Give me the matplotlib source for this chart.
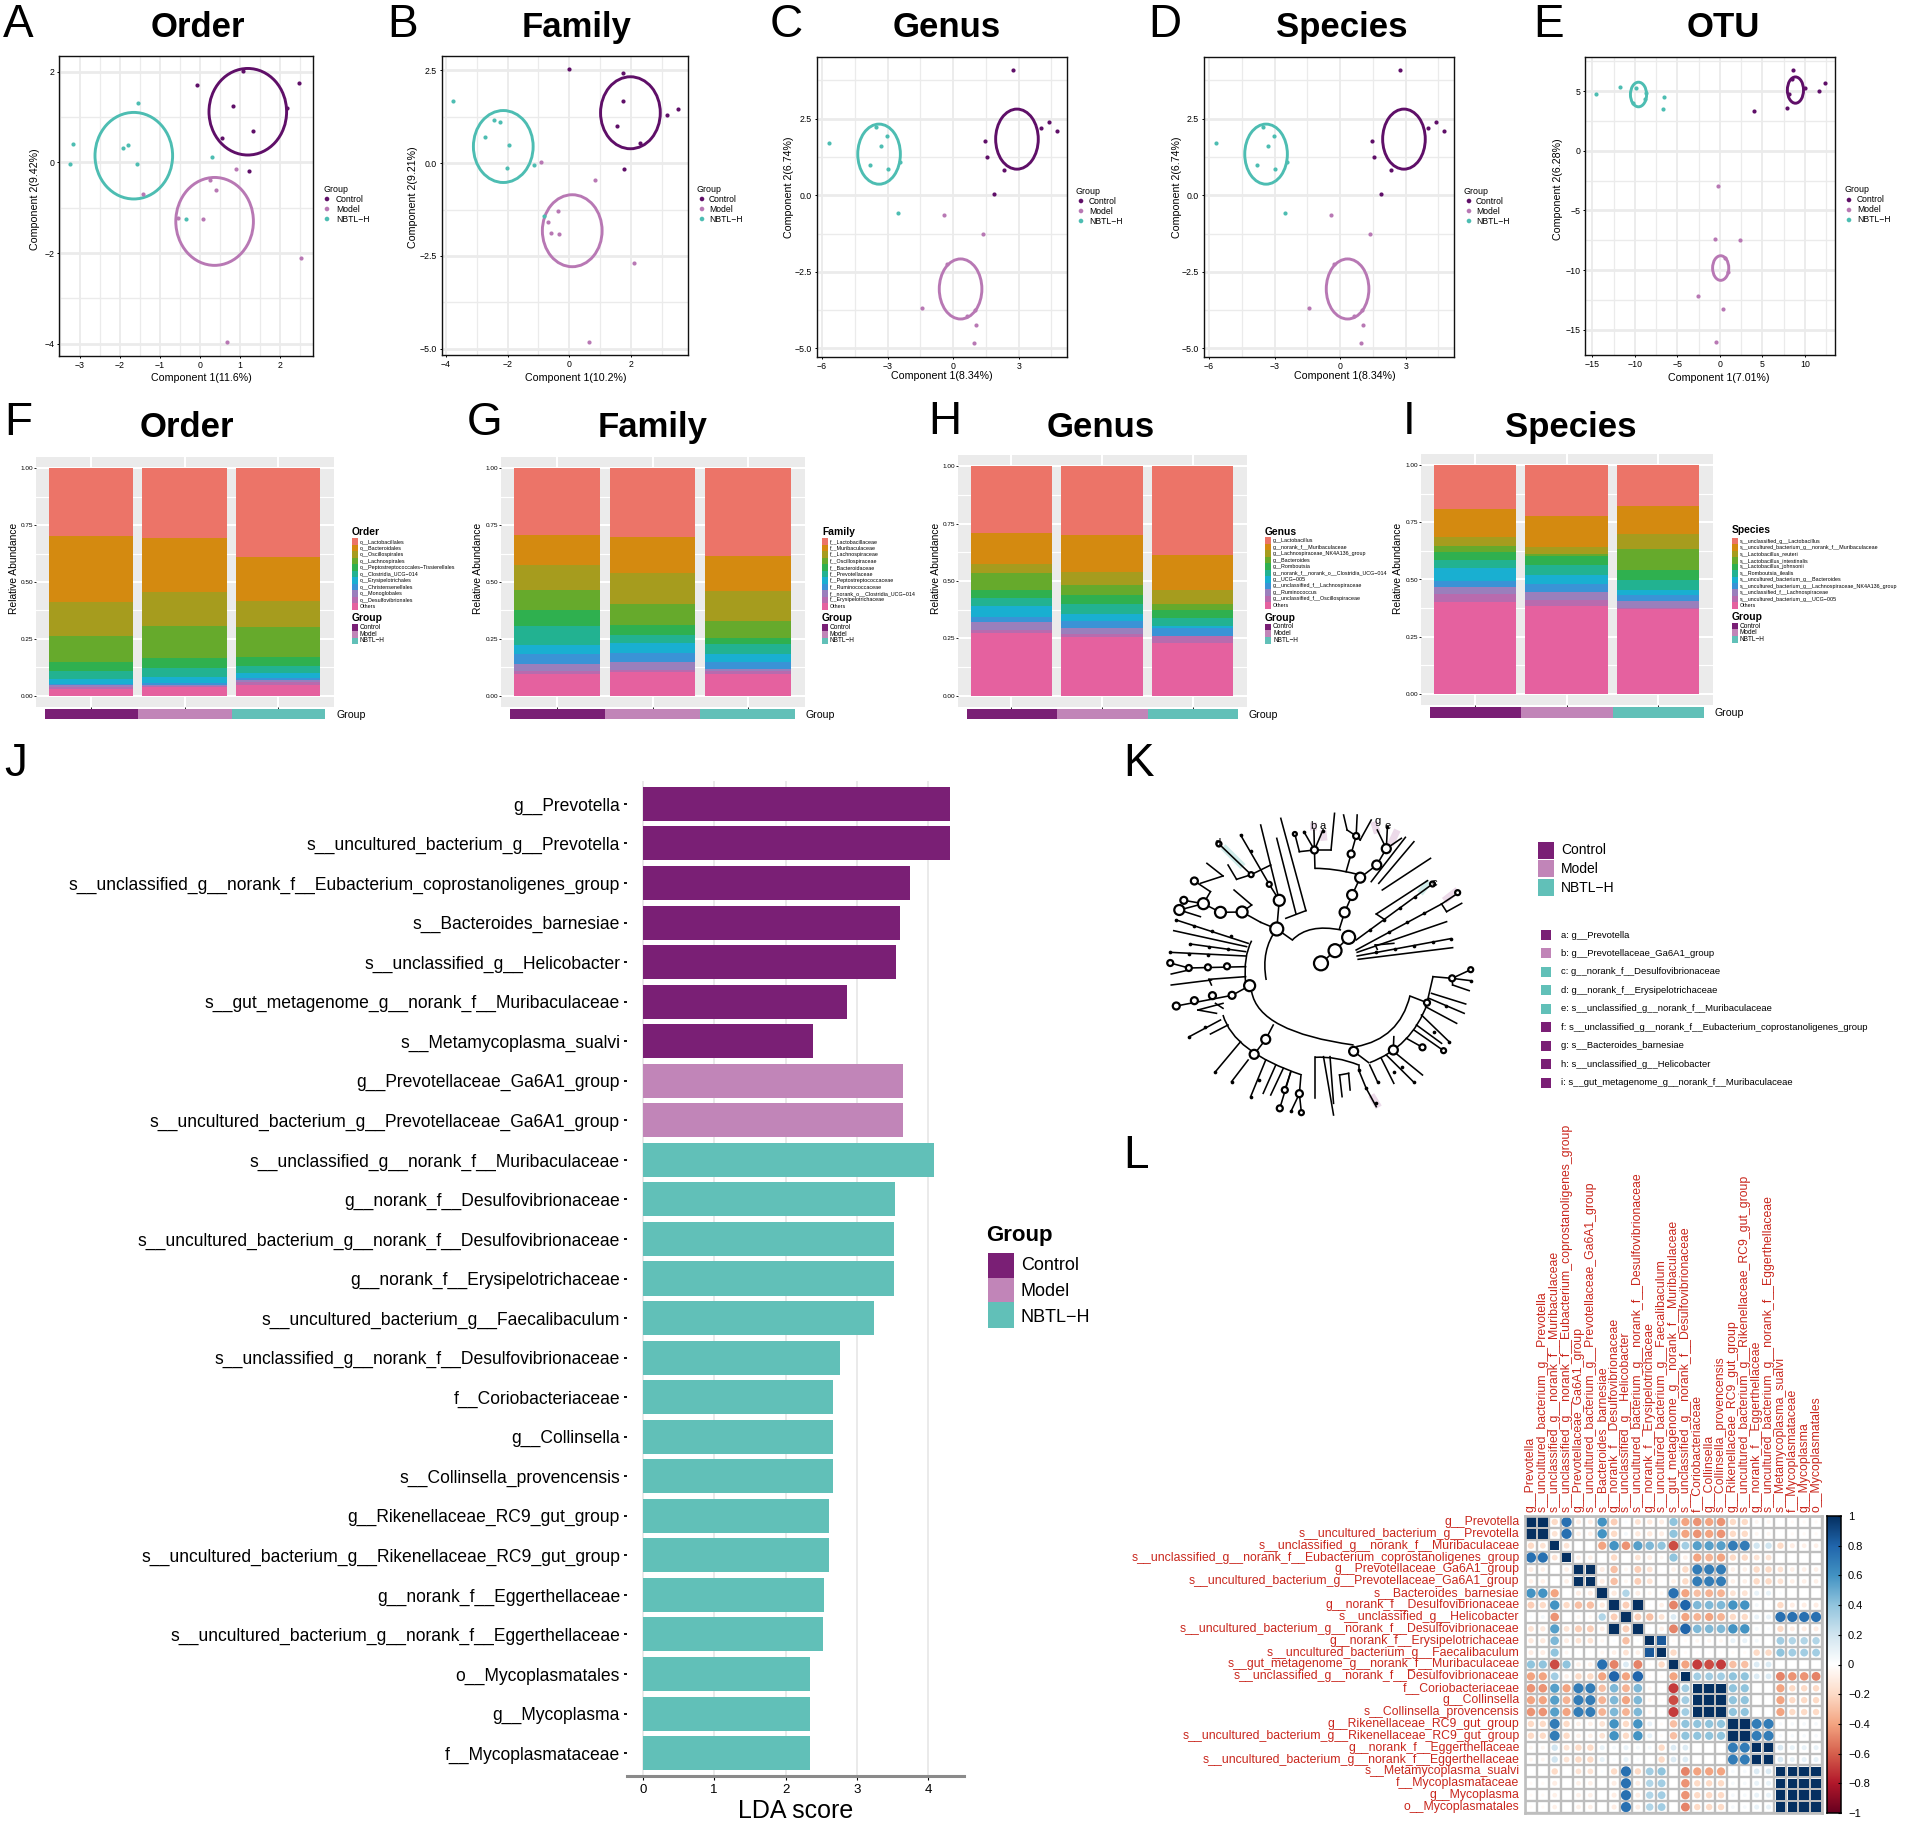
import numpy as np
import matplotlib
matplotlib.use("Agg")
import matplotlib.pyplot as plt
from matplotlib.colors import LinearSegmentedColormap, Normalize
from matplotlib.patches import Ellipse, PathPatch, Rectangle
from matplotlib.path import Path

plt.rcParams['font.family'] = ['Liberation Sans', 'DejaVu Sans']

W, H = 1908, 1821

groups = ['Control', 'Model', 'NBTL\u2212H']
scatter_colors = ['#5F0F68', '#B878B4', '#4DBDB2']
group_colors = ['#7A1F75', '#C185B8', '#61C0B8']

# PCoA points, [control, model, nbtl]
order_x = [[-0.07, 1.07, 2.47, 0.84, 2.18, 1.34, 0.55, 1.24],
           [0.91, 0.26, 0.41, -1.41, -0.55, 0.09, 2.54, 0.69],
           [-1.54, -3.16, -3.24, -1.80, -1.91, -1.56, 0.31, -0.35]]
order_y = [[1.70, 2.02, 1.76, 1.24, 1.21, 0.70, 0.53, -0.18],
           [-0.15, -0.39, -0.60, -0.69, -1.22, -1.24, -2.11, -3.97],
           [1.32, 0.40, -0.03, 0.38, 0.31, -0.03, 0.12, -1.25]]
order_ell = [(1.20, 1.12, 1.94, 1.91), (0.37, -1.30, 1.94, 1.94), (-1.65, 0.15, 1.94, 1.91)]

family_x = [[0, 1.76, 1.75, 3.53, 3.19, 1.54, 2.31, 1.78],
            [-0.91, 0.83, -0.36, -0.68, -0.60, -0.32, 2.10, 0.65],
            [-3.77, -2.44, -2.23, -2.72, -1.94, -1.15, -2.02, -0.81]]
family_y = [[2.54, 2.44, 1.69, 1.46, 1.31, 1.01, 0.54, -0.15],
            [0.04, -0.46, -1.30, -1.58, -1.89, -1.91, -2.70, -4.81],
            [1.69, 1.16, 1.11, 0.71, 0.49, -0.04, -0.13, -1.41]]
family_ell = [(1.99, 1.36, 1.94, 1.94), (0.10, -1.82, 1.94, 1.94), (-2.14, 0.45, 1.94, 1.94)]

genus_x = [[2.72, 4.40, 4.03, 4.73, 1.48, 1.54, 2.35, 1.88],
           [-0.44, 1.38, -0.30, -1.41, 1.01, 0.64, 1.04, 0.94],
           [-5.70, -3.52, -3.02, -3.29, -2.42, -3.79, -2.99, -2.52]]
genus_y = [[4.07, 2.38, 2.19, 2.10, 1.76, 1.24, 0.83, 0.05],
           [-0.63, -1.25, -2.23, -3.69, -3.75, -3.95, -4.24, -4.83],
           [1.70, 2.23, 1.92, 1.62, 1.07, 0.98, 0.85, -0.58]]
genus_ell = [(2.92, 1.83, 1.95, 1.96), (0.34, -3.06, 1.95, 1.96), (-3.39, 1.34, 1.95, 1.96)]

otu_x = [[8.62, 12.33, 10.0, 11.64, 8.10, 8.45, 7.84, 3.97],
         [-0.26, -0.60, 2.33, 0.60, 0.95, -2.59, 0.34, -0.43],
         [-14.57, -11.72, -9.83, -8.71, -8.79, -6.55, -6.72, -10.17]]
otu_y = [[6.72, 5.66, 5.22, 4.99, 4.74, 5.97, 3.54, 3.29],
         [-2.96, -7.36, -7.45, -8.95, -10.13, -12.19, -13.22, -15.98],
         [4.77, 5.30, 5.27, 4.85, 4.35, 4.52, 3.46, 4.02]]
otu_ell = [(8.88, 5.08, 1.9, 2.2), (0.09, -9.82, 1.9, 2.06), (-9.57, 4.71, 1.9, 2.06)]

# stacked bars, top segment first
order_stack = [[.298, .289, .151, .113, .039, .035, .022, .006, .011, .005, .031],
               [.306, .237, .152, .138, .047, .036, .030, .006, .007, .001, .040],
               [.390, .192, .116, .132, .041, .029, .022, .008, .010, .012, .048]]
family_stack = [[.292, .132, .113, .086, .071, .083, .040, .042, .032, .012, .097],
                [.304, .155, .139, .091, .046, .032, .044, .039, .039, .008, .103],
                [.386, .154, .132, .073, .026, .047, .034, .031, .008, .012, .097]]
genus_stack = [[.290, .134, .041, .076, .032, .036, .046, .026, .032, .013, .274],
               [.300, .159, .058, .044, .041, .041, .032, .029, .026, .016, .254],
               [.386, .152, .061, .028, .033, .035, .012, .031, .003, .030, .229]]
species_stack = [[.193, .122, .037, .028, .033, .037, .058, .025, .029, .038, .400],
                 [.223, .135, .032, .009, .039, .041, .041, .036, .032, .028, .384],
                 [.180, .119, .066, .092, .047, .041, .021, .027, .030, .006, .371]]

order_taxa = ['o__Lactobacillales', 'o__Bacteroidales', 'o__Oscillospirales', 'o__Lachnospirales',
              'o__Peptostreptococcales\u2212Tissierellales', 'o__Clostridia_UCG\u2212014', 'o__Erysipelotrichales',
              'o__Christensenellales', 'o__Monoglobales', 'o__Desulfovibrionales', 'Others']
family_taxa = ['f__Lactobacillaceae', 'f__Muribaculaceae', 'f__Lachnospiraceae', 'f__Oscillospiraceae',
               'f__Bacteroidaceae', 'f__Prevotellaceae', 'f__Peptostreptococcaceae', 'f__Ruminococcaceae',
               'f__norank_o__Clostridia_UCG\u2212014', 'f__Erysipelotrichaceae', 'Others']
genus_taxa = ['g__Lactobacillus', 'g__norank_f__Muribaculaceae', 'g__Lachnospiraceae_NK4A136_group', 'g__Bacteroides',
              'g__Romboutsia', 'g__norank_f__norank_o__Clostridia_UCG\u2212014', 'g__UCG\u2212005',
              'g__unclassified_f__Lachnospiraceae', 'g__Ruminococcus', 'g__unclassified_f__Oscillospiraceae', 'Others']
species_taxa = ['s__unclassified_g__Lactobacillus', 's__uncultured_bacterium_g__norank_f__Muribaculaceae',
                's__Lactobacillus_reuteri', 's__Lactobacillus_intestinalis', 's__Lactobacillus_johnsonii',
                's__Romboutsia_ilealis', 's__uncultured_bacterium_g__Bacteroides',
                's__uncultured_bacterium_g__Lachnospiraceae_NK4A136_group', 's__unclassified_f__Lachnospiraceae',
                's__uncultured_bacterium_g__UCG\u2212005', 'Others']
stack_colors = ['#EC7468', '#D48A10', '#A69C1E', '#66AA2C', '#2FB04F', '#22B291',
                '#19AFD1', '#3A93D6', '#9A7FBC', '#B86BAE', '#E5619F']

# LDA
lda_names = ['g__Prevotella', 's__uncultured_bacterium_g__Prevotella',
             's__unclassified_g__norank_f__Eubacterium_coprostanoligenes_group', 's__Bacteroides_barnesiae',
             's__unclassified_g__Helicobacter', 's__gut_metagenome_g__norank_f__Muribaculaceae',
             's__Metamycoplasma_sualvi', 'g__Prevotellaceae_Ga6A1_group',
             's__uncultured_bacterium_g__Prevotellaceae_Ga6A1_group', 's__unclassified_g__norank_f__Muribaculaceae',
             'g__norank_f__Desulfovibrionaceae', 's__uncultured_bacterium_g__norank_f__Desulfovibrionaceae',
             'g__norank_f__Erysipelotrichaceae', 's__uncultured_bacterium_g__Faecalibaculum',
             's__unclassified_g__norank_f__Desulfovibrionaceae', 'f__Coriobacteriaceae', 'g__Collinsella',
             's__Collinsella_provencensis', 'g__Rikenellaceae_RC9_gut_group',
             's__uncultured_bacterium_g__Rikenellaceae_RC9_gut_group', 'g__norank_f__Eggerthellaceae',
             's__uncultured_bacterium_g__norank_f__Eggerthellaceae', 'o__Mycoplasmatales', 'g__Mycoplasma',
             'f__Mycoplasmataceae']
lda_values = [4.30, 4.30, 3.75, 3.60, 3.55, 2.86, 2.38, 3.65, 3.65, 4.08, 3.53, 3.52, 3.52, 3.24, 2.77,
              2.66, 2.66, 2.66, 2.61, 2.61, 2.54, 2.52, 2.35, 2.35, 2.35]
lda_group = [0] * 7 + [1] * 2 + [2] * 16

# correlation
corr_names = ['g__Prevotella', 's__uncultured_bacterium_g__Prevotella', 's__unclassified_g__norank_f__Muribaculaceae',
              's__unclassified_g__norank_f__Eubacterium_coprostanoligenes_group', 'g__Prevotellaceae_Ga6A1_group',
              's__uncultured_bacterium_g__Prevotellaceae_Ga6A1_group', 's__Bacteroides_barnesiae',
              'g__norank_f__Desulfovibrionaceae', 's__unclassified_g__Helicobacter',
              's__uncultured_bacterium_g__norank_f__Desulfovibrionaceae', 'g__norank_f__Erysipelotrichaceae',
              's__uncultured_bacterium_g__Faecalibaculum', 's__gut_metagenome_g__norank_f__Muribaculaceae',
              's__unclassified_g__norank_f__Desulfovibrionaceae', 'f__Coriobacteriaceae', 'g__Collinsella',
              's__Collinsella_provencensis', 'g__Rikenellaceae_RC9_gut_group',
              's__uncultured_bacterium_g__Rikenellaceae_RC9_gut_group', 'g__norank_f__Eggerthellaceae',
              's__uncultured_bacterium_g__norank_f__Eggerthellaceae', 's__Metamycoplasma_sualvi',
              'f__Mycoplasmataceae', 'g__Mycoplasma', 'o__Mycoplasmatales']
corr_rows = [
    [1, 1, -.2, .75, -.1, -.1, .6, -.25, .03, -.15, -.12, -.1, .4, -.4, -.45, -.4, -.45, -.2, -.2, -.05, -.05, 0, -.03, -.03, -.03],
    [1, 1, -.15, .75, -.08, -.08, .6, -.2, .05, -.12, -.12, -.1, .4, -.4, -.45, -.4, -.45, -.2, -.2, -.05, -.05, 0, -.03, -.03, -.03],
    [-.2, -.15, 1, -.15, 0, 0, -.4, .6, -.45, .55, .45, .4, -.65, .35, .55, .55, .55, .7, .7, .2, .2, -.2, -.1, -.08, -.08],
    [.75, .75, -.15, 1, -.08, -.08, 0, -.2, 0, -.15, -.1, -.05, .4, -.08, -.4, -.35, -.4, -.2, -.2, -.15, -.15, 0, 0, 0, 0],
    [-.1, -.08, 0, -.08, 1, 1, -.1, -.3, -.05, -.25, -.15, -.02, -.08, -.2, .7, .7, .7, -.08, -.08, -.2, -.2, -.15, -.08, -.08, -.08],
    [-.08, -.08, 0, -.08, 1, 1, -.1, -.3, -.05, -.25, -.15, -.02, -.08, -.2, .7, .7, .7, -.08, -.08, -.2, -.2, -.15, -.08, -.08, -.08],
    [.6, .6, -.4, 0, -.1, -.1, 1, -.12, .3, -.1, -.05, -.05, .75, -.4, -.3, -.35, -.35, -.15, -.15, .1, .1, .02, 0, 0, 0],
    [-.25, -.2, .6, -.2, -.3, -.3, -.12, 1, -.25, 1, .02, -.08, -.5, .8, .45, .45, .45, .6, .6, .05, .03, -.2, -.1, -.1, -.1],
    [.03, .05, -.45, 0, -.05, -.05, .3, -.25, 1, -.25, -.3, -.15, .15, -.4, -.35, -.4, -.35, -.2, -.2, .1, .1, .75, .75, .75, .75],
    [-.15, -.12, .55, -.15, -.25, -.25, -.1, 1, -.25, 1, .02, -.08, -.5, .8, .45, .45, .45, .6, .6, .05, .03, -.2, -.1, -.1, -.1],
    [-.12, -.12, .45, -.1, -.15, -.15, -.05, .02, -.3, .02, 1, .85, -.03, -.03, -.05, -.05, -.05, .1, .1, .05, 0, .35, .3, .3, .3],
    [-.1, -.1, .4, -.05, -.02, -.02, -.05, -.08, -.15, -.08, .85, 1, -.2, -.03, -.02, -.02, -.02, -.03, -.03, -.2, -.2, .4, .35, .35, .35],
    [.4, .4, -.65, .4, -.08, -.08, .75, -.5, .15, -.5, -.03, -.2, 1, -.4, -.7, -.65, -.7, -.3, -.3, .15, .15, 0, 0, 0, 0],
    [-.4, -.4, .35, -.08, -.2, -.2, -.4, .8, -.4, .8, -.03, -.03, -.4, 1, .35, .35, .35, .4, .4, .15, .15, -.5, -.45, -.45, -.5],
    [-.45, -.45, .55, -.4, .7, .7, -.3, .45, -.35, .45, -.05, -.02, -.7, .35, 1, 1, 1, .4, .4, 0, 0, -.4, -.2, -.2, -.2],
    [-.4, -.4, .55, -.35, .7, .7, -.35, .45, -.4, .45, -.05, -.02, -.65, .35, 1, 1, 1, .4, .4, 0, 0, -.4, -.2, -.2, -.2],
    [-.45, -.45, .55, -.4, .7, .7, -.35, .45, -.35, .45, -.05, -.02, -.7, .35, 1, 1, 1, .4, .4, 0, 0, -.4, -.2, -.2, -.2],
    [-.2, -.2, .7, -.2, -.08, -.08, -.15, .6, -.2, .6, .1, -.03, -.3, .4, .4, .4, .4, 1, 1, .7, .7, .04, .04, .04, .04],
    [-.2, -.2, .7, -.2, -.08, -.08, -.15, .6, -.2, .6, .1, -.03, -.3, .4, .4, .4, .4, 1, 1, .7, .7, .04, .04, .04, .04],
    [-.05, -.05, .2, -.15, -.2, -.2, .1, .05, .1, .05, .05, -.2, .15, .15, 0, 0, 0, .7, .7, 1, 1, .15, .1, .1, .1],
    [-.05, -.05, .2, -.15, -.2, -.2, .1, .03, .1, .03, 0, -.2, .15, .15, 0, 0, 0, .7, .7, 1, 1, .15, .1, .1, .1],
    [0, 0, -.2, 0, -.15, -.15, .02, -.2, .75, -.2, .35, .4, 0, -.5, -.4, -.4, -.4, .04, .04, .15, .15, 1, 1, 1, 1],
    [-.03, -.03, -.1, 0, -.08, -.08, 0, -.1, .75, -.1, .3, .35, 0, -.45, -.2, -.2, -.2, .04, .04, .1, .1, 1, 1, 1, 1],
    [-.03, -.03, -.08, 0, -.08, -.08, 0, -.1, .75, -.1, .3, .35, 0, -.45, -.2, -.2, -.2, .04, .04, .1, .1, 1, 1, 1, 1],
    [-.03, -.03, -.08, 0, -.08, -.08, 0, -.1, .75, -.1, .3, .35, 0, -.5, -.2, -.2, -.2, .04, .04, .1, .1, 1, 1, 1, 1],
]
corr_ticks = [1, .8, .6, .4, .2, 0, -.2, -.4, -.6, -.8, -1]
rdbu = ['#67001F', '#B2182B', '#D6604D', '#F4A582', '#FDDBC7', '#FFFFFF', '#D1E5F0', '#92C5DE', '#4393C3', '#2166AC', '#053061']

# cladogram, coordinates measured on a 1.99 x 3 enlargement of the panel
clade_lines = [
    (400, 640, 428, 602), (428, 602, 455, 562), (437, 535, 447, 487), (447, 487, 462, 435), (462, 435, 478, 383),
    (478, 383, 511, 345), (511, 345, 530, 296), (450, 365, 460, 312), (460, 312, 470, 258), (388, 355, 387, 300),
    (470, 258, 452, 240), (452, 240, 445, 195), (470, 258, 478, 270), (478, 270, 500, 210), (470, 258, 472, 195),
    (530, 296, 512, 240), (530, 296, 532, 238), (530, 296, 560, 265), (387, 300, 357, 305), (357, 305, 348, 252),
    (387, 300, 366, 245), (387, 300, 386, 240), (387, 300, 404, 240), (387, 300, 420, 300), (420, 300, 427, 190),
    (500, 395, 568, 262), (515, 400, 585, 275), (522, 420, 618, 325), (510, 492, 612, 392), (510, 492, 528, 510),
    (470, 570, 622, 402), (470, 600, 640, 462), (640, 462, 650, 485), (650, 485, 680, 460), (640, 462, 672, 430),
    (472, 607, 650, 515), (472, 618, 658, 566), (474, 628, 662, 593), (508, 585, 545, 580), (508, 585, 512, 598),
    (343, 570, 312, 537), (312, 537, 317, 451), (317, 451, 280, 225), (330, 505, 370, 482), (370, 482, 320, 205),
    (350, 490, 312, 265), (317, 451, 297, 403), (297, 403, 240, 255), (261, 374, 300, 345), (261, 374, 197, 282),
    (261, 374, 232, 388), (232, 388, 215, 345), (205, 378, 173, 340), (205, 378, 160, 400), (312, 537, 280, 517),
    (280, 517, 243, 486), (243, 486, 200, 487), (243, 486, 262, 465), (262, 465, 227, 420), (200, 487, 166, 461),
    (166, 461, 180, 425), (180, 425, 148, 393), (166, 461, 127, 451), (166, 461, 118, 480), (118, 480, 160, 500),
    (255, 580, 112, 510), (252, 590, 107, 542), (250, 605, 140, 582), (250, 618, 100, 607), (250, 650, 137, 654),
    (137, 654, 100, 639), (137, 660, 102, 672), (250, 680, 177, 688), (177, 688, 182, 705), (102, 705, 182, 690),
    (258, 707, 223, 736), (223, 736, 112, 768), (205, 760, 155, 780), (155, 780, 192, 790), (190, 760, 205, 775),
    (290, 868, 305, 825), (290, 868, 267, 913), (200, 810, 138, 860), (215, 825, 180, 852), (240, 875, 190, 965),
    (255, 930, 222, 995), (290, 930, 260, 1040), (310, 945, 285, 1030), (325, 955, 300, 1035), (340, 965, 318, 1075),
    (340, 965, 328, 1020), (360, 978, 357, 1031), (357, 1031, 340, 1085), (357, 1031, 361, 1088), (388, 922, 388, 1045),
    (405, 920, 425, 1095), (418, 920, 425, 1060), (437, 975, 455, 970), (437, 975, 442, 1040), (455, 970, 458, 1020),
    (475, 945, 475, 960), (475, 960, 490, 1015), (490, 1015, 510, 1070), (465, 904, 495, 938), (497, 945, 513, 997),
    (520, 925, 545, 1000), (530, 915, 585, 997), (545, 905, 602, 975), (570, 865, 602, 892), (585, 840, 644, 902),
    (611, 758, 623, 680), (623, 680, 661, 685), (661, 685, 698, 659), (661, 685, 698, 692), (661, 685, 662, 705),
    (662, 705, 695, 722), (620, 730, 688, 762), (615, 745, 685, 790), (608, 770, 670, 820), (600, 795, 655, 875),
    (590, 825, 640, 880), (577, 738, 611, 758), (544, 900, 545, 860),
]
clade_arcs = [
    ((343, 570), (375, 520), (440, 540)), ((388, 355), (425, 355), (470, 372)), ((291, 690), (280, 600), (312, 537)),
    ((250, 700), (245, 620), (262, 572)), ((262, 725), (276, 846), (465, 885)), ((205, 795), (226, 906), (362, 975)),
    ((577, 738), (556, 866), (470, 890)), ((497, 938), (580, 891), (612, 760)), ((388, 922), (430, 918), (475, 945)),
]
clade_nodes = [
    (400, 640, 14), (428, 602, 13), (455, 562, 13), (447, 487, 10), (462, 435, 10), (478, 383, 10), (511, 345, 9),
    (530, 296, 9), (460, 312, 7), (470, 258, 6), (387, 300, 7), (348, 252, 4), (312, 537, 13), (317, 451, 11),
    (243, 486, 11), (200, 487, 11), (166, 461, 11), (118, 480, 10), (127, 451, 7), (148, 393, 7), (297, 403, 5),
    (261, 374, 5), (258, 707, 11), (223, 736, 7), (184, 737, 7), (148, 752, 7), (112, 768, 7), (213, 649, 6),
    (175, 652, 6), (137, 654, 6), (100, 639, 6), (290, 868, 9), (267, 913, 9), (465, 904, 9), (544, 900, 9),
    (611, 758, 6), (661, 685, 6), (698, 659, 5), (328, 1020, 6), (357, 1031, 7), (318, 1075, 6), (361, 1088, 5),
    (602, 892, 6), (644, 902, 5), (197, 282, 5), (622, 402, 5), (672, 428, 5),
]
clade_dots = [
    (497, 540), (526, 510), (557, 475), (588, 441), (535, 547), (572, 517), (606, 490), (510, 607), (548, 597),
    (585, 587), (622, 577), (658, 566), (148, 527), (184, 543), (221, 558), (112, 510), (140, 582), (178, 590),
    (215, 598), (137, 611), (175, 615), (100, 607), (240, 255), (260, 303), (366, 245), (404, 242), (532, 232),
    (170, 830), (138, 860), (190, 965), (222, 995), (277, 990), (260, 1040), (340, 1082), (475, 960), (490, 1015),
    (510, 1060), (513, 997), (545, 965), (562, 950), (585, 997), (625, 845), (655, 875), (648, 768), (698, 692),
]
clade_marks = [
    ((205, 290), (245, 350), 2), ((404, 240), (406, 272), 1), ((385, 215), (385, 240), 1), ((505, 215), (512, 250), 1),
    ((552, 240), (538, 285), 1), ((615, 395), (597, 430), 2), ((672, 420), (645, 452), 1), ((500, 1035), (515, 1072), 1),
]
clade_letters = [('b', 384, 227), ('a', 404, 227), ('g', 512, 212), ('e', 533, 228), ('c', 625, 400), ('d', 195, 278)]

key_names = ['a: g__Prevotella', 'b: g__Prevotellaceae_Ga6A1_group', 'c: g__norank_f__Desulfovibrionaceae',
             'd: g__norank_f__Erysipelotrichaceae', 'e: s__unclassified_g__norank_f__Muribaculaceae',
             'f: s__unclassified_g__norank_f__Eubacterium_coprostanoligenes_group', 'g: s__Bacteroides_barnesiae',
             'h: s__unclassified_g__Helicobacter', 'i: s__gut_metagenome_g__norank_f__Muribaculaceae']
key_group = [0, 1, 2, 2, 2, 0, 0, 0, 0]

fig = plt.figure(figsize=(W / 100, H / 100), dpi=100, facecolor='white')


def add_ax(left, top, right, bottom):
    return fig.add_axes([left / W, 1 - bottom / H, (right - left) / W, (bottom - top) / H])


def ftext(x, y, s, **kw):
    kw.setdefault('va', 'center')
    fig.text(x / W, 1 - y / H, s, **kw)


def frect(x0, y0, x1, y1, color):
    fig.add_artist(Rectangle((x0 / W, 1 - y1 / H), (x1 - x0) / W, (y1 - y0) / H,
                             transform=fig.transFigure, facecolor=color, edgecolor='none'))


def minus(vals, fmt='{:g}'):
    return [fmt.format(v).replace('-', '\u2212') for v in vals]


# panel letters and titles
letters = [('A', 3, 37), ('B', 387, 37), ('C', 770, 37), ('D', 1148, 37), ('E', 1533, 37),
           ('F', 4, 435), ('G', 467, 435), ('H', 928, 434), ('I', 1403, 434),
           ('J', 4, 776), ('K', 1123, 776), ('L', 1123, 1168)]
for s, x, y in letters:
    ftext(x, y, s, fontsize=33, va='baseline', ha='left')
titles = [('Order', 198, 37), ('Family', 577, 37), ('Genus', 947, 37), ('Species', 1342, 37), ('OTU', 1723, 37),
          ('Order', 187, 437), ('Family', 653, 437), ('Genus', 1101, 437), ('Species', 1571, 437)]
for s, x, y in titles:
    ftext(x, y, s, fontsize=25, fontweight='bold', va='baseline', ha='center')

# A-E
scatter_panels = [
    dict(box=(59, 56, 313, 356), xlim=(-3.52, 2.83), ylim=(-4.27, 2.35), xt=[-3, -2, -1, 0, 1, 2],
         yt=[-4, -2, 0, 2], xm=np.arange(-3.5, 3, 1), ym=[-3, -1, 1], x=order_x, y=order_y, ell=order_ell, fmt='{:g}',
         xl='Component 1(11.6%)', yl='Component 2(9.42%)', xlp=(201, 378), ylp=(35, 199), leg=(323, 327, 336, 189)),
    dict(box=(442, 56, 688, 355), xlim=(-4.13, 3.86), ylim=(-5.17, 2.89), xt=[-4, -2, 0, 2],
         yt=[-5, -2.5, 0, 2.5], xm=[-3, -1, 1, 3], ym=[-3.75, -1.25, 1.25], x=family_x, y=family_y, ell=family_ell,
         fmt='{:.1f}', xl='Component 1(10.2%)', yl='Component 2(9.21%)', xlp=(576, 378), ylp=(413, 197),
         leg=(697, 702, 709, 189)),
    dict(box=(817, 57, 1067, 357), xlim=(-6.23, 5.21), ylim=(-5.28, 4.51), xt=[-6, -3, 0, 3],
         yt=[-5, -2.5, 0, 2.5], xm=[-4.5, -1.5, 1.5, 4.5], ym=[-3.75, -1.25, 1.25, 3.75], x=genus_x, y=genus_y,
         ell=genus_ell, fmt='{:.1f}', xl='Component 1(8.34%)', yl='Component 2(6.74%)', xlp=(942, 376), ylp=(789, 187),
         leg=(1076, 1081, 1089, 191)),
    dict(box=(1204, 57, 1454, 357), xlim=(-6.23, 5.21), ylim=(-5.28, 4.51), xt=[-6, -3, 0, 3],
         yt=[-5, -2.5, 0, 2.5], xm=[-4.5, -1.5, 1.5, 4.5], ym=[-3.75, -1.25, 1.25, 3.75], x=genus_x, y=genus_y,
         ell=genus_ell, fmt='{:.1f}', xl='Component 1(8.34%)', yl='Component 2(6.74%)', xlp=(1345, 376), ylp=(1177, 187),
         leg=(1464, 1469, 1476, 191)),
    dict(box=(1585, 57, 1835, 355), xlim=(-15.86, 13.53), ylim=(-17.1, 7.85), xt=[-15, -10, -5, 0, 5, 10],
         yt=[-15, -10, -5, 0, 5], xm=[-12.5, -7.5, -2.5, 2.5, 7.5, 12.5], ym=[-12.5, -7.5, -2.5, 2.5, 7.5], x=otu_x,
         y=otu_y, ell=otu_ell, fmt='{:g}', xl='Component 1(7.01%)', yl='Component 2(6.28%)', xlp=(1719, 378),
         ylp=(1558, 189), leg=(1845, 1849, 1857, 190)),
]
for p in scatter_panels:
    ax = add_ax(*p['box'])
    ax.set_xlim(*p['xlim'])
    ax.set_ylim(*p['ylim'])
    ax.set_xticks(p['xt'])
    ax.set_xticklabels(minus(p['xt']))
    ax.set_yticks(p['yt'])
    ax.set_yticklabels(minus(p['yt'], p['fmt']))
    ax.set_xticks(p['xm'], minor=True)
    ax.set_yticks(p['ym'], minor=True)
    ax.tick_params(which='minor', length=0)
    ax.tick_params(which='major', length=1.5, width=0.7, labelsize=6.3, pad=2)
    ax.grid(axis='y', which='major', color='#EBEBEB', lw=2.0)
    ax.grid(axis='y', which='minor', color='#EBEBEB', lw=1.0)
    ax.grid(axis='x', which='major', color='#EBEBEB', lw=1.3)
    ax.grid(axis='x', which='minor', color='#EBEBEB', lw=0.9)
    ax.set_axisbelow(True)
    for sp in ax.spines.values():
        sp.set_linewidth(1.0)
        sp.set_color('#111111')
    for i in range(3):
        ax.scatter(p['x'][i], p['y'][i], s=9, color=scatter_colors[i], linewidths=0, zorder=3)
        cx, cy, w, h = p['ell'][i]
        ax.add_patch(Ellipse((cx, cy), w, h, fill=False, edgecolor=scatter_colors[i], lw=2.1, zorder=2))
    ftext(p['xlp'][0], p['xlp'][1], p['xl'], fontsize=7.7, ha='center')
    ftext(p['ylp'][0], p['ylp'][1], p['yl'], fontsize=7.7, ha='center', rotation=90)
    tx, dx, lx, ty = p['leg']
    ftext(tx, ty, 'Group', fontsize=6.4, ha='left')
    for i, g in enumerate(groups):
        ftext(lx, ty + 10 + 10 * i, g, fontsize=6.2, ha='left')
        fig.add_artist(Ellipse((dx / W, 1 - (ty + 10 + 10 * i) / H), 4.6 / W, 4.6 / H, transform=fig.transFigure,
                               facecolor=scatter_colors[i], edgecolor='none'))

# F-I
bar_panels = [
    dict(box=(36, 457, 334, 707), strip=(45, 709, 325, 719), stack=order_stack, taxa=order_taxa, name='Order',
         legx=352, ty=532, first=541.7, gt=618, gi=627.7, gtxt=337, lab=14),
    dict(box=(501, 457, 805, 707), strip=(510, 709, 795, 719), stack=family_stack, taxa=family_taxa, name='Family',
         legx=822, ty=532, first=541.7, gt=618, gi=627.7, gtxt=806, lab=478),
    dict(box=(958, 455, 1247, 707), strip=(967, 709, 1238, 719), stack=genus_stack, taxa=genus_taxa, name='Genus',
         legx=1265, ty=532, first=540.7, gt=617.7, gi=627, gtxt=1249, lab=936),
    dict(box=(1421, 454, 1713, 705), strip=(1430, 707, 1704, 718), stack=species_stack, taxa=species_taxa, name='Species',
         legx=1732, ty=530, first=541, gt=616.7, gi=626, gtxt=1715, lab=1398),
]
for p in bar_panels:
    ax = add_ax(*p['box'])
    ax.set_facecolor('#EBEBEB')
    ax.set_xlim(0.41, 3.6)
    ax.set_ylim(-0.05, 1.05)
    ax.set_xticks([1, 2, 3])
    ax.set_xticklabels(['', '', ''])
    ax.set_yticks([0, .25, .5, .75, 1])
    ax.set_yticklabels(['0.00', '0.25', '0.50', '0.75', '1.00'])
    ax.set_yticks([.125, .375, .625, .875], minor=True)
    ax.tick_params(which='minor', length=0)
    ax.tick_params(which='major', length=1.2, width=0.6, labelsize=4.6, pad=1)
    ax.grid(which='major', color='white', lw=1.5)
    ax.grid(which='minor', axis='y', color='white', lw=0.8)
    ax.set_axisbelow(True)
    for sp in ax.spines.values():
        sp.set_visible(False)
    for k in range(3):
        top = 1.0
        for j, v in enumerate(p['stack'][k]):
            ax.bar(k + 1, v, bottom=top - v, width=0.9, color=stack_colors[j], linewidth=0)
            top -= v
    ftext(p['lab'], 568, 'Relative Abundance', fontsize=7.4, rotation=90, ha='center')
    l, t, r, b = p['strip']
    sa = add_ax(l, t, r, b)
    sa.barh(0, [1, 1, 1], left=[0, 1, 2], height=1, color=group_colors, linewidth=0)
    sa.set_xlim(0, 3)
    sa.set_ylim(-0.5, 0.5)
    sa.axis('off')
    ftext(p['gtxt'], (t + b) / 2 + 1, 'Group', fontsize=7.6, ha='left')
    lx = p['legx']
    ftext(lx, p['ty'], p['name'], fontsize=7.4, fontweight='bold', ha='left')
    for j, s in enumerate(p['taxa']):
        yy = p['first'] + j * 6.46
        frect(lx, yy - 3.2, lx + 6, yy + 3.2, stack_colors[j])
        ftext(lx + 8, yy, s, fontsize=3.9, ha='left')
    ftext(lx, p['gt'], 'Group', fontsize=7.4, fontweight='bold', ha='left')
    for j, g in enumerate(groups):
        yy = p['gi'] + j * 6.6
        frect(lx, yy - 3.3, lx + 6, yy + 3.3, group_colors[j])
        ftext(lx + 8, yy, g, fontsize=4.7, ha='left')

# J
ax = add_ax(627, 781, 964, 1776)
ypos = np.arange(len(lda_values))
ax.barh(ypos, lda_values, height=0.86, color=[group_colors[g] for g in lda_group], linewidth=0, zorder=2)
ax.set_xlim(-0.22, 4.5)
ax.set_ylim(24.58, -0.58)
ax.set_yticks(ypos)
ax.set_yticklabels(lda_names)
ax.set_xticks([0, 1, 2, 3, 4])
ax.tick_params(axis='y', length=2, width=1.3, labelsize=12.65, pad=3)
ax.tick_params(axis='x', length=3, width=0.8, labelsize=9.5, pad=3)
ax.grid(axis='x', color='#E8E8E8', lw=1.3, zorder=1)
ax.set_axisbelow(True)
for side in ('top', 'right', 'left'):
    ax.spines[side].set_visible(False)
ax.spines['bottom'].set_color('#8A8A8A')
ax.spines['bottom'].set_linewidth(2.2)
ftext(796, 1811, 'LDA score', fontsize=18, ha='center')
ftext(986, 1235, 'Group', fontsize=16, fontweight='bold', ha='left')
for i, (g, top, bot, ty) in enumerate(zip(groups, [1253, 1278, 1302], [1278, 1302, 1328], [1266, 1291, 1318])):
    frect(988, top, 1014, bot, group_colors[i])
    ftext(1021, ty, g, fontsize=13, ha='left')

# K
ax = add_ax(1120, 750, 1530, 1120)
ax.set_xlim(0, 816)
ax.set_ylim(1110, 0)
ax.axis('off')
for (x0, y0), (x1, y1), g in clade_marks:
    ax.plot([x0, x1], [y0, y1], color=group_colors[g], alpha=0.3, lw=5, solid_capstyle='butt', zorder=1)
for x0, y0, x1, y1 in clade_lines:
    ax.plot([x0, x1], [y0, y1], color='black', lw=1.15, zorder=2)
for p0, c, p1 in clade_arcs:
    ax.add_patch(PathPatch(Path([p0, c, p1], [Path.MOVETO, Path.CURVE3, Path.CURVE3]), fill=False,
                           edgecolor='black', lw=1.15, zorder=2))
ax.scatter([d[0] for d in clade_dots], [d[1] for d in clade_dots], s=7, color='black', linewidths=0, zorder=3)
ax.scatter([n[0] for n in clade_nodes], [n[1] for n in clade_nodes], s=[(n[2] * 0.72) ** 2 for n in clade_nodes],
           facecolor='white', edgecolor='black', linewidths=1.6, zorder=4)
for s, x, y in clade_letters:
    ax.text(x, y, s, fontsize=8, ha='center', va='center', zorder=5)
for i, (g, top, ty) in enumerate(zip(groups, [842, 860, 879], [850, 869, 888])):
    frect(1538, top, 1554, top + 17, group_colors[i])
    ftext(1561, ty, g, fontsize=10, ha='left')
for i, s in enumerate(key_names):
    yy = 935 + i * 18.45
    frect(1541, yy - 5, 1551, yy + 5, group_colors[key_group[i]])
    ftext(1561, yy, s, fontsize=6.8, ha='left')

# L
corr = np.array(corr_rows, dtype=float)
n = len(corr_names)
cmap = LinearSegmentedColormap.from_list('corr', rdbu)
norm = Normalize(-1, 1)
left, top, right, bottom = 1525, 1516, 1822, 1813
ax = add_ax(left, top, right, bottom)
ax.set_xlim(-0.5, n - 0.5)
ax.set_ylim(n - 0.5, -0.5)
ax.set_xticks([])
ax.set_yticks([])
for sp in ax.spines.values():
    sp.set_color('#BEBEBE')
    sp.set_linewidth(1.9)
ax.vlines(np.arange(n + 1) - 0.5, -0.5, n - 0.5, color='#BEBEBE', lw=1.7, zorder=1)
ax.hlines(np.arange(n + 1) - 0.5, -0.5, n - 0.5, color='#BEBEBE', lw=1.7, zorder=1)
cell = (right - left) / n
yy, xx = np.mgrid[0:n, 0:n]
big = np.abs(corr) >= 0.85
sizes = (0.95 * cell * np.abs(corr) ** 0.35 * 0.72) ** 2
ax.scatter(xx[~big], yy[~big], s=sizes[~big], c=corr[~big], cmap=cmap, norm=norm, marker='o', linewidths=0, zorder=2)
ax.scatter(xx[big], yy[big], s=(0.8 * cell * 0.72) ** 2, c=corr[big], cmap=cmap, norm=norm, marker='s',
           linewidths=0, zorder=2)
for i, s in enumerate(corr_names):
    ftext(1519.5, top + (i + 0.5) * cell, s, fontsize=8.8, color='#C9261C', ha='right')
    fig.text((left + (i + 0.5) * cell) / W, 1 - 1512 / H, s, fontsize=8.8, color='#C9261C', rotation=90,
             ha='center', va='bottom')
cb = add_ax(1827, 1516, 1841, 1813)
cb.imshow(np.linspace(1, -1, 256).reshape(-1, 1), cmap=cmap, norm=norm, aspect='auto', extent=(0, 1, -1, 1))
cb.set_xticks([])
cb.yaxis.tick_right()
cb.set_yticks(corr_ticks)
cb.set_yticklabels(minus(corr_ticks))
cb.tick_params(axis='y', direction='in', length=2, width=0.8, labelsize=8, pad=5)
for sp in cb.spines.values():
    sp.set_linewidth(1.1)

fig.savefig('out.png', dpi=100)
